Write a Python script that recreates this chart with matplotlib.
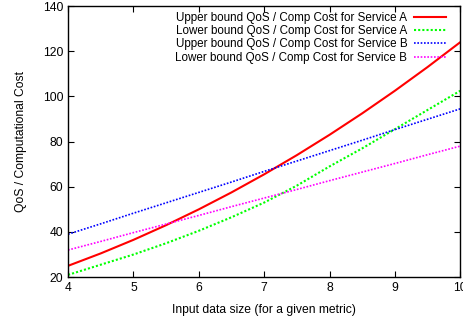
import matplotlib
matplotlib.use("Agg")
import matplotlib.pyplot as plt

plt.rcParams['font.family'] = ['Liberation Sans', 'DejaVu Sans']

# values (every 0.5 on the x axis)
x = [4, 4.5, 5, 5.5, 6, 6.5, 7, 7.5, 8, 8.5, 9, 9.5, 10]
upper_a = [25, 30.5, 36.5, 43, 50, 57.5, 65.5, 74, 83, 92.5, 102.5, 113, 124]
lower_a = [21, 25.5, 30, 35, 40.5, 46.5, 53, 60.5, 69, 77, 85.5, 94, 102.5]
upper_b = [39, 43.6, 48.3, 52.9, 57.5, 62.1, 66.8, 71.4, 76, 80.6, 85.3, 89.9, 94.5]
lower_b = [32, 35.8, 39.7, 43.5, 47.3, 51.2, 55, 58.8, 62.7, 66.5, 70.3, 74.2, 78]

labels = ["Upper bound QoS / Comp Cost for Service A",
          "Lower bound QoS / Comp Cost for Service A",
          "Upper bound QoS / Comp Cost for Service B",
          "Lower bound QoS / Comp Cost for Service B"]

fs = 8.7

fig = plt.figure(figsize=(4.63, 3.2), dpi=100)
ax = fig.add_axes([0.147, 0.134, 0.847, 0.847])

ax.plot(x, upper_a, color='#ff0000', lw=1.5, label=labels[0])
ax.plot(x, lower_a, color='#00ff00', lw=1.5, ls=(0, (1, 1)), label=labels[1])
ax.plot(x, upper_b, color='#0000ff', lw=1.2, ls=(0, (1, 1)), label=labels[2])
ax.plot(x, lower_b, color='#ff00ff', lw=1.2, ls=(0, (1, 1)), label=labels[3])

ax.set_xlim(4, 10)
ax.set_ylim(20, 140)
ax.set_xticks([4, 5, 6, 7, 8, 9, 10])
ax.set_yticks([20, 40, 60, 80, 100, 120, 140])
ax.tick_params(direction='in', top=True, right=True, labelsize=fs, length=4, width=0.8)
for s in ax.spines.values():
    s.set_linewidth(1.0)

ax.set_xlabel("Input data size (for a given metric)", fontsize=fs, labelpad=7)
ax.set_ylabel("QoS / Computational Cost", fontsize=fs, labelpad=11)

ax.legend(loc='upper right', frameon=False, fontsize=8.4, markerfirst=False,
          handlelength=2.7, labelspacing=0.1, borderaxespad=0.0,
          handletextpad=0.6, bbox_to_anchor=(0.975, 0.995))

fig.savefig("out.png", dpi=100)
